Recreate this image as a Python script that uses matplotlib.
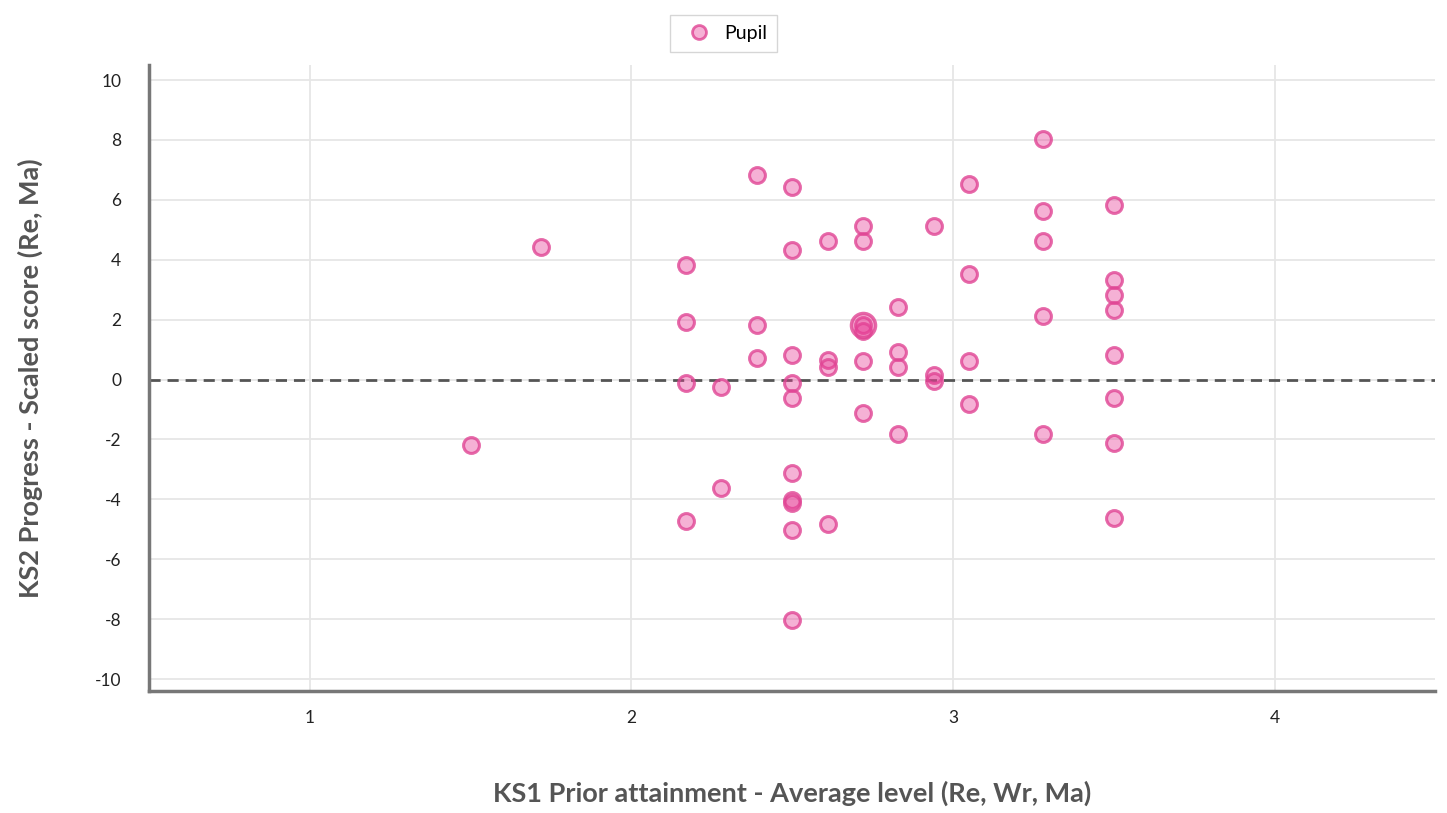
import matplotlib
matplotlib.use('Agg')
import matplotlib.pyplot as plt
from matplotlib.lines import Line2D

plt.rcParams['font.family'] = ['Lato', 'DejaVu Sans']
plt.rcParams['axes.unicode_minus'] = False

# KS1 prior attainment (x) and KS2 progress (y) per pupil
ks1 = [1.5, 1.72,
       2.17, 2.17, 2.17, 2.17,
       2.28, 2.28,
       2.39, 2.39, 2.39,
       2.5, 2.5, 2.5, 2.5, 2.5, 2.5, 2.5, 2.5, 2.5, 2.5,
       2.61, 2.61, 2.61, 2.61,
       2.72, 2.72, 2.72, 2.72, 2.72, 2.72,
       2.83, 2.83, 2.83, 2.83,
       2.94, 2.94, 2.94,
       3.05, 3.05, 3.05, 3.05,
       3.28, 3.28, 3.28, 3.28, 3.28,
       3.5, 3.5, 3.5, 3.5, 3.5, 3.5, 3.5, 3.5]
ks2 = [-2.2, 4.42,
       3.82, 1.92, -0.12, -4.72,
       -0.25, -3.62,
       6.83, 1.82, 0.72,
       6.43, 4.32, 0.82, -0.12, -0.62, -3.12, -4.02, -4.12, -5.03, -8.03,
       4.62, 0.65, 0.42, -4.82,
       5.12, 4.62, 1.82, 1.62, 0.62, -1.12,
       2.42, 0.92, 0.42, -1.82,
       5.12, 0.15, -0.05,
       6.52, 3.52, 0.62, -0.82,
       8.03, 5.62, 4.62, 2.12, -1.82,
       5.83, 3.32, 2.82, 2.32, 0.82, -0.62, -2.12, -4.62]

# larger overlapping point
big_x = [2.72]
big_y = [1.82]

x_ticks = [1, 2, 3, 4]
y_ticks = [-10, -8, -6, -4, -2, 0, 2, 4, 6, 8, 10]

face = (0.91, 0.24, 0.59, 0.4)
edge = (0.88, 0.27, 0.58, 0.8)

fig = plt.figure(figsize=(14.47, 8.13), dpi=100)
ax = fig.add_axes([0.103, 0.150, 0.889, 0.770])

ax.scatter(ks1, ks2, s=130, facecolor=face, edgecolor=edge, linewidth=2.2, zorder=3)
ax.scatter(big_x, big_y, s=300, facecolor=face, edgecolor=edge, linewidth=2.5, zorder=3)

ax.axhline(0, color='#555555', linestyle=(0, (4, 2.5)), linewidth=2, zorder=2)

ax.set_xlim(0.5, 4.5)
ax.set_ylim(-10.4, 10.5)
ax.set_xticks(x_ticks)
ax.set_yticks(y_ticks)
ax.grid(True, color='#e6e6e6', linewidth=1.3, zorder=0)
ax.set_axisbelow(True)

for s in ['top', 'right']:
    ax.spines[s].set_visible(False)
for s in ['left', 'bottom']:
    ax.spines[s].set_color('#777777')
    ax.spines[s].set_linewidth(2.5)

ax.tick_params(axis='both', length=0, labelsize=12.5, colors='#222222')
ax.tick_params(axis='y', pad=20)
ax.tick_params(axis='x', pad=14)

ax.set_xlabel('KS1 Prior attainment - Average level (Re, Wr, Ma)', fontsize=19.5,
              fontweight='bold', color='#555555', va='center')
ax.set_ylabel('KS2 Progress - Scaled score (Re, Ma)', fontsize=19.5,
              fontweight='bold', color='#555555', va='center')
ax.xaxis.set_label_coords(0.5, -0.163)
ax.yaxis.set_label_coords(-0.0925, 0.5)

handle = Line2D([0], [0], marker='o', color='w', markerfacecolor=face,
                markeredgecolor=edge, markeredgewidth=2, markersize=10, label='Pupil')
fig.legend(handles=[handle], loc='upper center', bbox_to_anchor=(0.50, 0.993),
           frameon=True, fontsize=14, handletextpad=0.3, edgecolor='#cccccc',
           fancybox=False, borderpad=0.5)

plt.savefig('out.png', dpi=100)
